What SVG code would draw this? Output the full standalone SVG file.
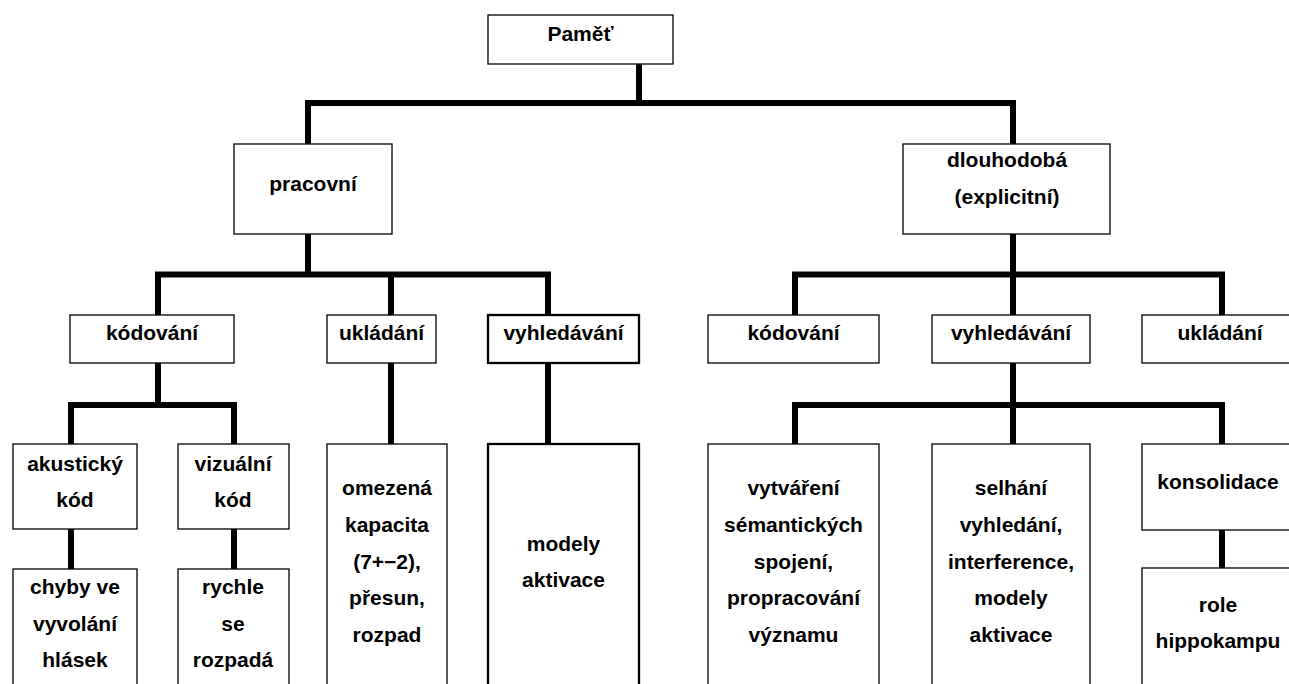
<svg xmlns="http://www.w3.org/2000/svg" width="1289" height="684" viewBox="0 0 1289 684">
<style>
.box{fill:#fff;stroke:#000;stroke-width:1.3}
.thick{stroke-width:2.3}
.t{font-family:"Liberation Sans",Arial,sans-serif;font-weight:bold;font-size:21px;fill:#000;text-anchor:middle}
.c{stroke:#000;stroke-width:6;fill:none}
</style>
<rect width="1289" height="684" fill="#fff"/>
<g id="connectors">
<path class="c" d="M639,64V103M305,103H1016M308,103V144M1013,103V144"/>
<path class="c" d="M308,234V274.5M155,274.5H551M158,274.5V315M391,274.5V315M548,274.5V315"/>
<path class="c" d="M1013,234V274.5M792,274.5H1225M795,274.5V315M1013,274.5V315M1222,274.5V315"/>
<path class="c" d="M158,363V405M68,405H237M71,405V444M234,405V444M71,529V569M234,529V569"/>
<path class="c" d="M391,363V444M548,363V444"/>
<path class="c" d="M1013,363V405M792,405H1225M795,405V444M1013,405V444M1222,405V444M1222,530V568"/>
</g>
<g id="n-pamet"><rect class="box" x="488" y="15" width="185" height="49"/><text class="t" x="580.5" y="41">Paměť</text></g>
<g id="n-pracovni"><rect class="box" x="234" y="144" width="158" height="90"/><text class="t" x="313" y="191">pracovní</text></g>
<g id="n-dlouhodoba"><rect class="box" x="903" y="144" width="207" height="90"/><text class="t" x="1007" y="167">dlouhodobá</text><text class="t" x="1007" y="204">(explicitní)</text></g>
<g id="n-kodovani1"><rect class="box" x="70" y="315" width="164" height="48"/><text class="t" x="152" y="340">kódování</text></g>
<g id="n-ukladani1"><rect class="box" x="327" y="315" width="109" height="48"/><text class="t" x="381.5" y="340">ukládání</text></g>
<g id="n-vyhledavani1"><rect class="box thick" x="488" y="315" width="151" height="48"/><text class="t" x="563.5" y="340">vyhledávání</text></g>
<g id="n-kodovani2"><rect class="box" x="708" y="315" width="171" height="48"/><text class="t" x="793.5" y="340">kódování</text></g>
<g id="n-vyhledavani2"><rect class="box" x="932" y="315" width="158" height="48"/><text class="t" x="1011" y="340">vyhledávání</text></g>
<g id="n-ukladani2"><rect class="box" x="1142" y="315" width="156" height="48"/><text class="t" x="1220" y="340">ukládání</text></g>
<g id="n-akusticky"><rect class="box" x="13" y="444" width="124" height="85"/><text class="t" x="75" y="471">akustický</text><text class="t" x="75" y="507">kód</text></g>
<g id="n-vizualni"><rect class="box" x="178" y="444" width="111" height="85"/><text class="t" x="233" y="471">vizuální</text><text class="t" x="233" y="507">kód</text></g>
<g id="n-chyby"><rect class="box" x="13" y="569" width="124" height="140"/><text class="t" x="75" y="594">chyby ve</text><text class="t" x="75" y="631">vyvolání</text><text class="t" x="75" y="667">hlásek</text></g>
<g id="n-rychle"><rect class="box" x="178" y="569" width="111" height="140"/><text class="t" x="233" y="594">rychle</text><text class="t" x="233" y="631">se</text><text class="t" x="233" y="667">rozpadá</text></g>
<g id="n-omezena"><rect class="box" x="327" y="444" width="120" height="260"/><text class="t" x="387" y="495">omezená</text><text class="t" x="387" y="532">kapacita</text><text class="t" x="387" y="569">(7+−2),</text><text class="t" x="387" y="605">přesun,</text><text class="t" x="387" y="642">rozpad</text></g>
<g id="n-modely"><rect class="box thick" x="488" y="444" width="151" height="260"/><text class="t" x="563.5" y="551">modely</text><text class="t" x="563.5" y="587">aktivace</text></g>
<g id="n-vytvareni"><rect class="box" x="708" y="444" width="171" height="260"/><text class="t" x="793.5" y="495">vytváření</text><text class="t" x="793.5" y="532">sémantických</text><text class="t" x="793.5" y="569">spojení,</text><text class="t" x="793.5" y="605">propracování</text><text class="t" x="793.5" y="642">významu</text></g>
<g id="n-selhani"><rect class="box" x="932" y="444" width="158" height="260"/><text class="t" x="1011" y="495">selhání</text><text class="t" x="1011" y="532">vyhledání,</text><text class="t" x="1011" y="569">interference,</text><text class="t" x="1011" y="605">modely</text><text class="t" x="1011" y="642">aktivace</text></g>
<g id="n-konsolidace"><rect class="box" x="1142" y="444" width="156" height="86"/><text class="t" x="1218" y="489">konsolidace</text></g>
<g id="n-role"><rect class="box" x="1142" y="568" width="156" height="140"/><text class="t" x="1218" y="612">role</text><text class="t" x="1218" y="648">hippokampu</text></g>
</svg>
